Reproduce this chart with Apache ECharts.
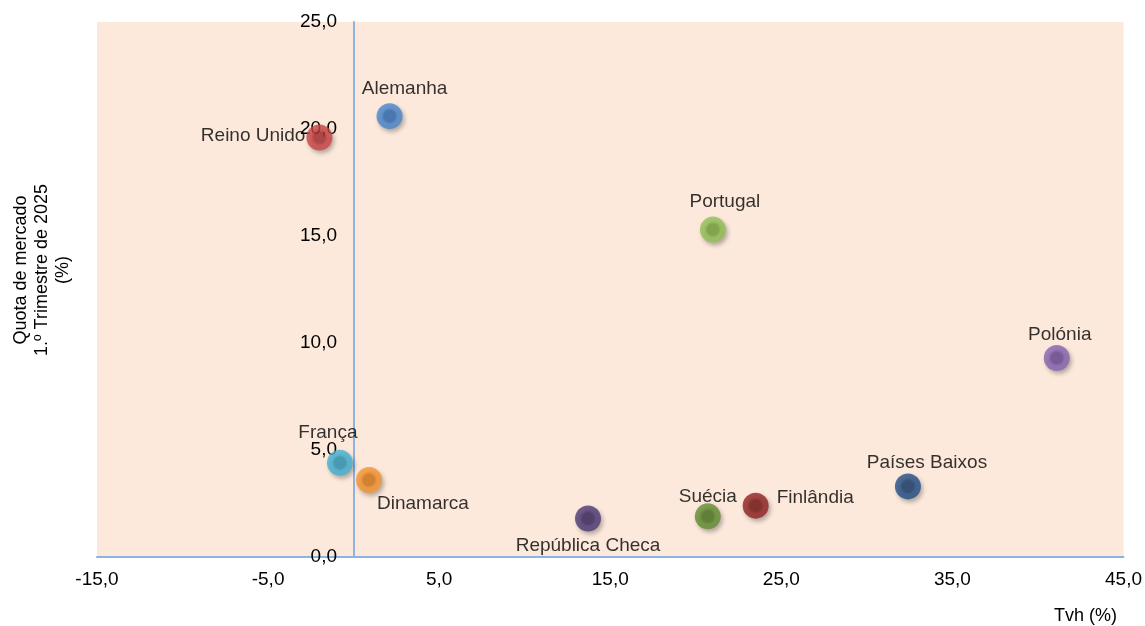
<!DOCTYPE html>
<html>
<head>
<meta charset="utf-8">
<script src="https://cdn.jsdelivr.net/npm/echarts@6/dist/echarts.min.js"></script>
<style>
  html, body { margin: 0; padding: 0; background: #fff; }
  #chart { width: 1145px; height: 626px; }
</style>
</head>
<body>
<div id="chart"></div>
<script>
// Market share (1st quarter 2025) vs year-on-year change, by country
const countries = ['Alemanha', 'Reino Unido', 'Portugal', 'Polónia', 'França', 'Dinamarca',
                   'República Checa', 'Suécia', 'Finlândia', 'Países Baixos'];
const tvh   = [2.1, -2.0, 21.0, 41.1, -0.8, 0.9, 13.7, 20.7, 23.5, 32.4];
const quota = [20.6, 19.6, 15.3, 9.3, 4.4, 3.6, 1.8, 1.9, 2.4, 3.3];

// Marker colours: [outer, inner]
const colors = [
  ['#4A86CF', '#2F6AB3'],
  ['#CC4544', '#A92F30'],
  ['#92C154', '#75A33A'],
  ['#8764B2', '#6A4796'],
  ['#44B2D4', '#2E95B7'],
  ['#F6952F', '#DA7716'],
  ['#4E3A76', '#38265C'],
  ['#638E30', '#4B7520'],
  ['#932322', '#761414'],
  ['#244F87', '#173B6C']
];

// Label placement for each point
const labelPos = ['top', 'left', 'top', 'top', 'top', 'right', 'bottom', 'top', 'right', 'top'];
const labelOff = [[15, 0], [4, -2], [12, 0], [3, 4], [-12, -3], [-10, 24], [0, 0], [0, 8], [3, -8], [19, 4]];

const xTicks = { min: -15, max: 45, interval: 10 };
const yTicks = { min: 0, max: 25, interval: 5 };

const gridLeft = 97, gridRight = 20, chartWidth = 1145;
// Shift the value axis so it sits on x = 0, labels included
const plotWidth = chartWidth - gridLeft - gridRight;
const yAxisShift = (0 - xTicks.min) / (xTicks.max - xTicks.min) * plotWidth;

const fmt = v => v.toFixed(1).replace('.', ',');

const data = countries.map((name, i) => ({
  name: name,
  value: [tvh[i], quota[i]],
  itemStyle: {
    color: {
      type: 'radial', x: 0.5, y: 0.5, r: 0.5,
      colorStops: [
        { offset: 0, color: colors[i][1] },
        { offset: 0.42, color: colors[i][1] },
        { offset: 0.62, color: colors[i][0] },
        { offset: 1, color: colors[i][0] }
      ]
    },
    shadowColor: 'rgba(0,0,0,0.35)',
    shadowBlur: 4,
    shadowOffsetX: 2,
    shadowOffsetY: 3
  },
  label: { position: labelPos[i], offset: labelOff[i] }
}));

const chart = echarts.init(document.getElementById('chart'));
chart.setOption({
  animation: false,
  textStyle: { fontFamily: 'Liberation Sans, Arial, sans-serif' },
  grid: {
    left: gridLeft, right: gridRight, top: 22, bottom: 69,
    show: true, backgroundColor: '#FCE9DC', borderWidth: 0
  },
  xAxis: {
    type: 'value',
    min: xTicks.min, max: xTicks.max, interval: xTicks.interval,
    axisLine: { show: true, onZero: false, lineStyle: { color: '#8DB3E2', width: 2 } },
    axisTick: { show: false },
    splitLine: { show: false },
    axisLabel: { color: '#000', fontSize: 19, margin: 13, formatter: fmt }
  },
  yAxis: {
    type: 'value',
    position: 'left',
    offset: -yAxisShift,
    min: yTicks.min, max: yTicks.max, interval: yTicks.interval,
    axisLine: { show: true, onZero: false, lineStyle: { color: '#8DB3E2', width: 2 } },
    axisTick: { show: false },
    splitLine: { show: false },
    axisLabel: { color: '#000', fontSize: 19, margin: 17, formatter: fmt }
  },
  graphic: [
    {
      type: 'text', left: 1054, top: 607,
      style: { text: 'Tvh (%)', fontSize: 18, fill: '#000', fontFamily: 'Liberation Sans, Arial, sans-serif' }
    },
    {
      type: 'text', x: 42, y: 270, rotation: Math.PI / 2,
      style: {
        text: 'Quota de mercado\n1.º Trimestre de 2025\n(%)',
        fontSize: 18, lineHeight: 21, fill: '#000',
        align: 'center', verticalAlign: 'middle',
        fontFamily: 'Liberation Sans, Arial, sans-serif'
      }
    }
  ],
  series: [{
    type: 'scatter',
    symbolSize: 26,
    data: data,
    label: {
      show: true,
      formatter: '{b}',
      color: '#000',
      fontSize: 19,
      distance: 5
    }
  }]
});
</script>
</body>
</html>
